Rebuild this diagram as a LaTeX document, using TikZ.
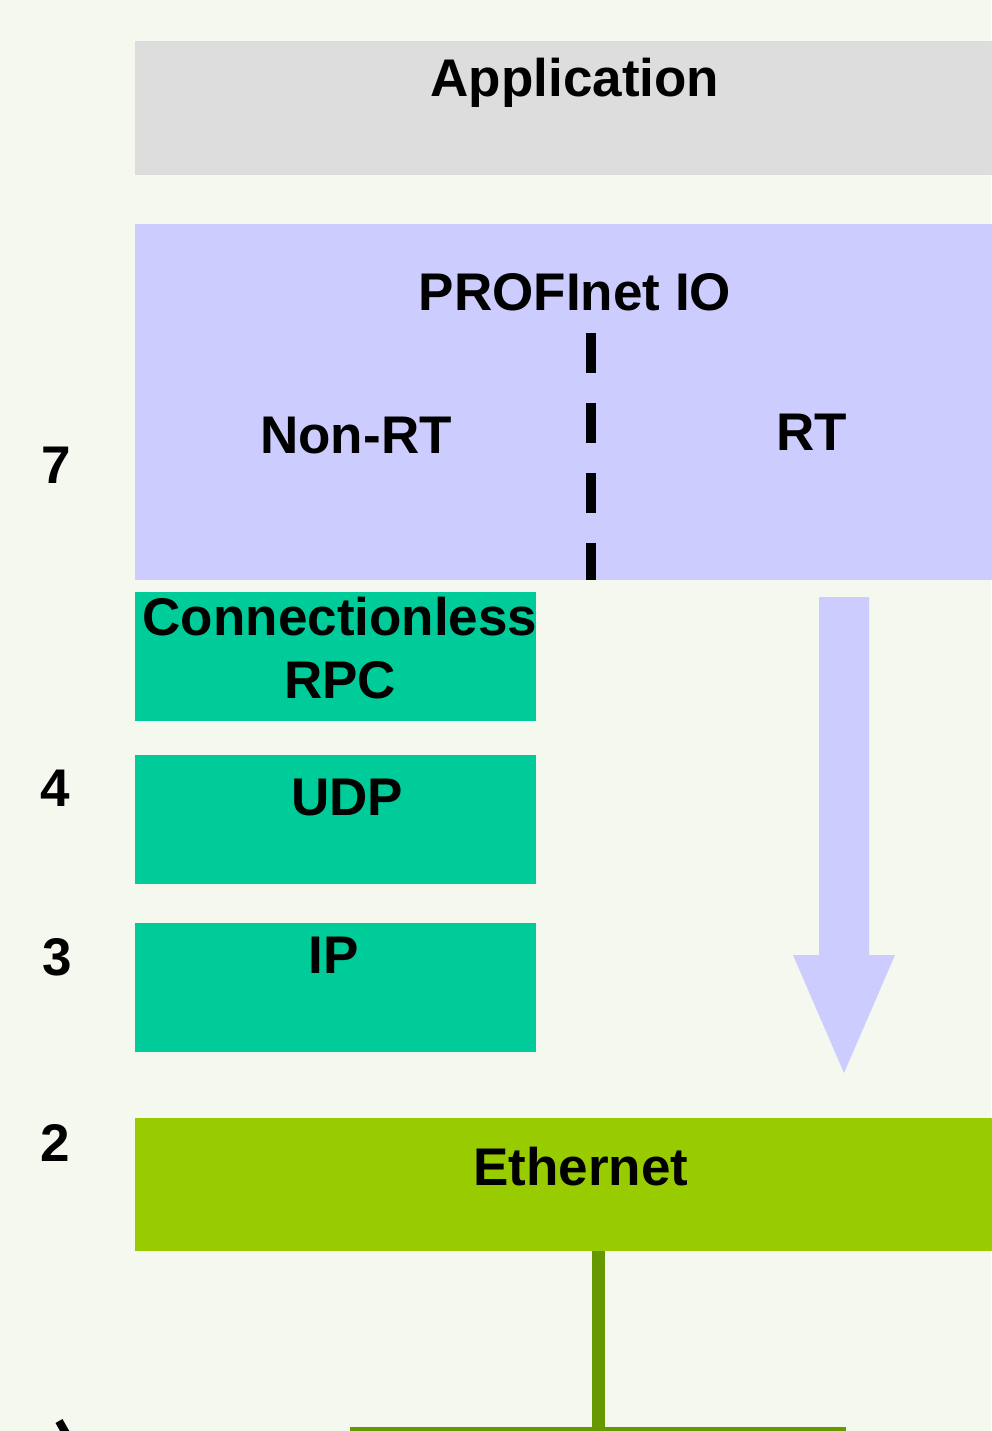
\documentclass[tikz,border=0pt]{standalone}
\usepackage{fontspec}
\setmainfont{Liberation Sans}
\definecolor{bgcolor}{RGB}{245,248,239}
\definecolor{appcolor}{RGB}{221,221,221}
\definecolor{iocolor}{RGB}{204,204,255}
\definecolor{stackcolor}{RGB}{0,204,153}
\definecolor{ethcolor}{RGB}{153,204,0}
\definecolor{buscolor}{RGB}{102,153,0}
\tikzset{
  layerbox/.style={fill=#1, draw=none, inner sep=0pt, anchor=north west},
  boxtext/.style={anchor=base, inner sep=0pt, font=\fontsize{53}{60}\selectfont\bfseries},
  layernum/.style={boxtext}
}
\begin{document}
\begin{tikzpicture}[x=1pt,y=-1pt]
\def\W{991} % page width
\def\H{1431} % page height
\fill[bgcolor] (0,0) rectangle (\W,\H);
\useasboundingbox (0,0) rectangle (\W,\H);

% layer boxes
\node[layerbox=appcolor, minimum width=870pt, minimum height=134pt] (app) at (135,41) {};
\node[layerbox=iocolor, minimum width=870pt, minimum height=356pt] (io) at (135,224) {};
\node[layerbox=stackcolor, minimum width=401pt, minimum height=129pt] (rpc) at (135,592) {};
\node[layerbox=stackcolor, minimum width=401pt, minimum height=129pt] (udp) at (135,755) {};
\node[layerbox=stackcolor, minimum width=401pt, minimum height=129pt] (ip) at (135,923) {};
\node[layerbox=ethcolor, minimum width=870pt, minimum height=133pt] (eth) at (135,1118) {};
\node[layerbox=buscolor, minimum width=496pt, minimum height=12pt] (bus) at (350,1427) {};

% texts
\node[boxtext] (apptext) at (575,97) {Application};
\node[boxtext] (iotext) at (575,310) {PROFInet IO};
\node[boxtext] (nonrt) at (356,453) {Non-RT};
\node[boxtext] (rt) at (812,450) {RT};
\node[boxtext] (rpctext) at (340,635) {Connectionless};
\node[boxtext] (rpctext2) at (340,698) {RPC};
\node[boxtext] (udptext) at (347,815) {UDP};
\node[boxtext] (iptext) at (334,973) {IP};
\node[boxtext] (ethtext) at (581,1185) {Ethernet};

% layer numbers
\node[layernum] (n7) at (56,483) {7};
\node[layernum] (n4) at (55,806) {4};
\node[layernum] (n3) at (57,975) {3};
\node[layernum] (n2) at (55,1161) {2};
\draw[line width=8pt] (59,1421) -- (68,1437);

% Non-RT / RT divider
\coordinate (divtop) at (591,333);
\draw[line width=10pt, dash pattern=on 40pt off 30pt] (divtop) -- (divtop |- io.south);

% RT arrow
\fill[iocolor] (819,597) -- (869,597) -- (869,955) -- (895,955) -- (844,1073)
  -- (793,955) -- (819,955) -- cycle;

% bus drop
\draw[buscolor, line width=13pt] (eth.south -| bus.north) -- (bus.north);
\end{tikzpicture}
\end{document}
